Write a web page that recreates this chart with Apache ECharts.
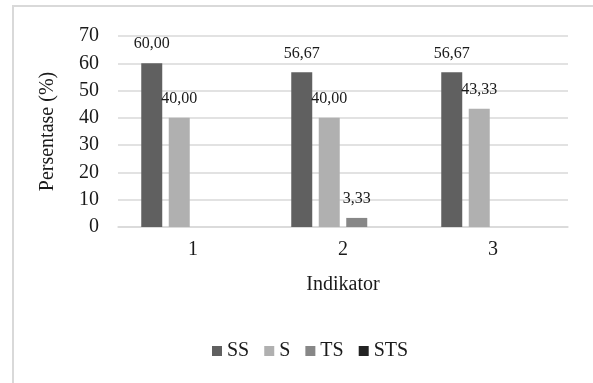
<!DOCTYPE html>
<html>
<head>
<meta charset="utf-8">
<script src="https://cdn.jsdelivr.net/npm/echarts@6/dist/echarts.min.js"></script>
<style>html,body{margin:0;padding:0;background:#fff}#c{width:593px;height:383px}</style>
</head>
<body>
<div id="c"></div>
<script>
var categories = ['1', '2', '3'];
var seriesNames = ['SS', 'S', 'TS', 'STS'];
var ssValues = [60.00, 56.67, 56.67];
var sValues = [40.00, 40.00, 43.33];
var tsValues = [0, 3.33, 0];
var stsValues = [0, 0, 0];
var yTicks = [0, 10, 20, 30, 40, 50, 60, 70];

var colors = ['#606060', '#b0b0b0', '#878787', '#232323'];
var allValues = [ssValues, sValues, tsValues, stsValues];
var FONT = 'Liberation Serif';

var chart = echarts.init(document.getElementById('c'));
chart.setOption({
  animation: false,
  textStyle: { fontFamily: FONT },
  graphic: [{
    type: 'rect',
    shape: { x: 13, y: 6, width: 700, height: 500 },
    style: { fill: 'none', stroke: '#d9d9d9', lineWidth: 2 },
    silent: true, z: -1
  }],
  grid: { left: 118, right: 25, top: 36, bottom: 156 },
  legend: {
    data: seriesNames,
    left: 207, top: 336,
    itemWidth: 10, itemHeight: 10, itemGap: 15,
    icon: 'rect',
    textStyle: { fontFamily: FONT, fontSize: 20, color: '#1a1a1a' }
  },
  xAxis: {
    type: 'category',
    data: categories,
    name: 'Indikator',
    nameLocation: 'middle',
    nameGap: 48,
    nameTextStyle: { fontFamily: FONT, fontSize: 20, color: '#1a1a1a' },
    axisTick: { show: false },
    axisLine: { lineStyle: { color: '#d9d9d9', width: 1.5 } },
    axisLabel: { fontFamily: FONT, fontSize: 20, color: '#1a1a1a', margin: 13 }
  },
  yAxis: {
    type: 'value',
    min: yTicks[0], max: yTicks[yTicks.length - 1], interval: 10,
    name: 'Persentase (%)',
    nameLocation: 'middle',
    nameGap: 60,
    nameTextStyle: { fontFamily: FONT, fontSize: 20, color: '#1a1a1a' },
    axisLine: { show: false },
    axisTick: { show: false },
    splitLine: { lineStyle: { color: '#d9d9d9', width: 1.5 } },
    axisLabel: { fontFamily: FONT, fontSize: 20, color: '#1a1a1a', margin: 19 }
  },
  series: seriesNames.map(function (n, i) {
    return {
      name: n,
      type: 'bar',
      data: allValues[i],
      barGap: '31%',
      barCategoryGap: '31%',
      itemStyle: { color: colors[i] },
      label: {
        show: true,
        position: 'top',
        distance: 11,
        fontFamily: FONT,
        fontSize: 16,
        color: '#1a1a1a',
        formatter: function (p) {
          return p.value ? p.value.toFixed(2).replace('.', ',') : '';
        }
      }
    };
  })
});
</script>
</body>
</html>
